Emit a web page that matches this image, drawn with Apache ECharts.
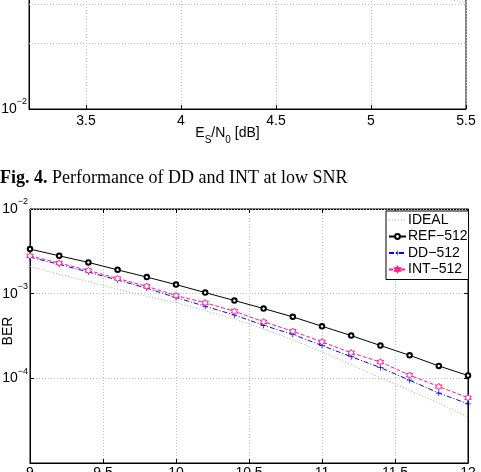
<!DOCTYPE html>
<html>
<head>
<meta charset="utf-8">
<script src="https://cdn.jsdelivr.net/npm/echarts@6/dist/echarts.min.js"></script>
<style>
  html, body { margin: 0; padding: 0; background: #fff; }
  #chart-container { width: 481px; height: 472px; }
</style>
</head>
<body>
<div id="chart-container"></div>
<script>
var dom = document.getElementById("chart-container");
var myChart = echarts.init(dom, null, { renderer: "canvas" });

// top (cropped) figure, only its tail is visible
var topTicks = [3.5, 4, 4.5, 5, 5.5];
var topSnr = [5.3, 5.5];
var topIdeal = [0.0339, 0.0302];

// Es/N0 points of the lower figure
var snr = [9.0, 9.2, 9.4, 9.6, 9.8, 10.0, 10.2, 10.4, 10.6, 10.8, 11.0, 11.2, 11.4, 11.6, 11.8, 12.0];
var ideal = [2.09e-3, 1.70e-3, 1.39e-3, 1.13e-3, 9.3e-4, 7.8e-4, 6.3e-4, 5.0e-4, 3.85e-4, 2.85e-4, 2.05e-4, 1.45e-4, 1.02e-4, 7.2e-5, 5.1e-5, 3.5e-5];
var ref512 = [3.36e-3, 2.80e-3, 2.34e-3, 1.91e-3, 1.57e-3, 1.28e-3, 1.03e-3, 8.3e-4, 6.67e-4, 5.32e-4, 4.12e-4, 3.2e-4, 2.44e-4, 1.87e-4, 1.40e-4, 1.08e-4];
var dd512 = [2.70e-3, 2.22e-3, 1.80e-3, 1.45e-3, 1.16e-3, 9.0e-4, 7.1e-4, 5.6e-4, 4.23e-4, 3.3e-4, 2.44e-4, 1.8e-4, 1.34e-4, 9.5e-5, 6.7e-5, 5.0e-5];
var int512 = [2.80e-3, 2.30e-3, 1.88e-3, 1.51e-3, 1.22e-3, 9.5e-4, 7.8e-4, 6.2e-4, 4.65e-4, 3.6e-4, 2.7e-4, 2.0e-4, 1.56e-4, 1.09e-4, 8.0e-5, 5.9e-5];
var names = ["IDEAL", "REF\u2212512", "DD\u2212512", "INT\u2212512"];

var font = "Liberation Sans";
var gridColor = "#bdbdbd";
var idealStyle = { color: "#a8a8a8", type: [1, 2], width: 1 };

function pairs(xs, ys) {
  return xs.map(function (x, i) { return [x, ys[i]]; });
}

// minor log grid: 2..9 x 10^k
function minorLines(k0, k1) {
  var out = [];
  for (var k = k0; k < k1; k++) {
    for (var m = 2; m <= 9; m++) out.push({ yAxis: m * Math.pow(10, k) });
  }
  return out;
}

function powLabel(v) {
  var e = Math.round(Math.log10(v));
  if (e === -5) return "";
  return "{m|10}{e|\u2212" + (-e) + "}";
}

var powRich = {
  m: { fontSize: 14, fontFamily: font, color: "#000" },
  e: { fontSize: 9, fontFamily: font, color: "#000", padding: [0, 0, 14, 0] },
};

var gridLine = { show: true, lineStyle: { color: gridColor, type: [1, 2], width: 1 } };
var blackLine = { show: true, lineStyle: { color: "#000", width: 1 } };

var markGrid = function (k0, k1) {
  return {
    silent: true,
    symbol: ["none", "none"],
    label: { show: false },
    lineStyle: { color: gridColor, type: [1, 2], width: 1 },
    data: minorLines(k0, k1),
  };
};

var hexagram = "path://M5,0L6.45,2.49L9.33,2.5L7.9,5L9.33,7.5L6.45,7.51L5,10L3.55,7.51L0.67,7.5L2.1,5L0.67,2.5L3.55,2.49Z";
var plus = "path://M4.4,0H5.6V4.4H10V5.6H5.6V10H4.4V5.6H0V4.4H4.4Z";

var option = {
  animation: false,
  title: {
    text: "{b|Fig. 4.} Performance of DD and INT at low SNR",
    left: 0,
    top: 169,
    padding: 0,
    textStyle: {
      fontFamily: "Liberation Serif",
      fontSize: 18,
      fontWeight: "normal",
      color: "#000",
      rich: { b: { fontFamily: "Liberation Serif", fontSize: 18, fontWeight: "bold", color: "#000" } },
    },
  },
  legend: {
    data: [
      { name: names[0], itemStyle: { opacity: 0 }, lineStyle: idealStyle },
      names[1],
      names[2],
      names[3],
    ],
    orient: "vertical",
    left: 386,
    top: 211,
    itemWidth: 17,
    itemHeight: 6,
    itemGap: 2.5,
    padding: [2, 1, 3, 2],
    borderColor: "#000",
    borderWidth: 1,
    borderRadius: 0,
    backgroundColor: "#fff",
    textStyle: { fontFamily: font, fontSize: 14, lineHeight: 14, color: "#000", padding: [0, 0, 0, -3] },
  },
  grid: [
    { left: 29, top: -110, width: 437, height: 219, show: true, borderColor: "#000", borderWidth: 1, outerBoundsMode: "none" },
    { left: 30, top: 209, width: 438, height: 254, show: true, borderColor: "#000", borderWidth: 1, outerBoundsMode: "none" },
  ],
  xAxis: [
    {
      gridIndex: 0,
      type: "value",
      min: 3.2,
      max: 5.5,
      axisLine: blackLine,
      axisTick: { inside: true, length: 4, customValues: topTicks, lineStyle: { color: "#000" } },
      axisLabel: { customValues: topTicks, margin: 5, fontFamily: font, fontSize: 14, color: "#000" },
      splitLine: gridLine,
      name: "{n|E}{s|S}{n|/N}{s|0}{n| [dB]}",
      nameLocation: "middle",
      nameGap: 12,
      nameMoveOverlap: false,
      nameTextStyle: {
        padding: [0, 40, 0, 0],
        rich: {
          n: { fontFamily: font, fontSize: 14, color: "#000" },
          s: { fontFamily: font, fontSize: 10, color: "#000", padding: [14, 0, 0, 0] },
        },
      },
    },
    {
      gridIndex: 1,
      type: "value",
      min: 9,
      max: 12,
      interval: 0.5,
      axisLine: blackLine,
      axisTick: { inside: true, length: 4, lineStyle: { color: "#000" } },
      axisLabel: { margin: 3, fontFamily: font, fontSize: 14, color: "#000" },
      splitLine: gridLine,
    },
    {
      gridIndex: 1,
      type: "value",
      position: "top",
      min: 9,
      max: 12,
      interval: 0.5,
      axisLine: blackLine,
      axisTick: { inside: true, length: 4, lineStyle: { color: "#000" } },
      axisLabel: { show: false },
      splitLine: { show: false },
    },
  ],
  yAxis: [
    {
      gridIndex: 0,
      type: "log",
      logBase: 10,
      min: 0.01,
      max: 0.1,
      axisLine: blackLine,
      axisTick: { inside: true, length: 4, lineStyle: { color: "#000" } },
      axisLabel: { margin: 2, formatter: powLabel, rich: powRich },
      splitLine: gridLine,
    },
    {
      gridIndex: 1,
      type: "log",
      logBase: 10,
      min: 1e-5,
      max: 1e-2,
      axisLine: blackLine,
      axisTick: { inside: true, length: 4, lineStyle: { color: "#000" } },
      axisLabel: { margin: 2, formatter: powLabel, rich: powRich },
      splitLine: gridLine,
      name: "BER",
      nameLocation: "middle",
      nameGap: 15,
      nameMoveOverlap: false,
      nameTextStyle: { fontFamily: font, fontSize: 14, color: "#000", padding: [0, 0, 0, 10] },
    },
    {
      gridIndex: 1,
      type: "log",
      logBase: 10,
      position: "right",
      min: 1e-5,
      max: 1e-2,
      axisLine: blackLine,
      axisTick: { inside: true, length: 4, lineStyle: { color: "#000" } },
      axisLabel: { show: false },
      splitLine: { show: false },
    },
  ],
  series: [
    {
      name: "topGrid",
      type: "line",
      xAxisIndex: 0,
      yAxisIndex: 0,
      data: [],
      z: 1,
      markLine: markGrid(-2, -1),
    },
    {
      name: "topIdeal",
      type: "line",
      xAxisIndex: 0,
      yAxisIndex: 0,
      data: pairs(topSnr, topIdeal),
      symbol: "none",
      lineStyle: { color: "#b0b0b0", type: [1, 2], width: 1 },
    },
    {
      name: "bottomGrid",
      type: "line",
      xAxisIndex: 1,
      yAxisIndex: 1,
      data: [],
      z: 1,
      markLine: markGrid(-5, -2),
    },
    {
      name: names[0],
      type: "line",
      xAxisIndex: 1,
      yAxisIndex: 1,
      data: pairs(snr, ideal),
      symbol: "circle",
      showSymbol: false,
      color: "#a8a8a8",
      lineStyle: idealStyle,
    },
    {
      name: names[1],
      type: "line",
      xAxisIndex: 1,
      yAxisIndex: 1,
      data: pairs(snr, ref512),
      symbol: "emptyCircle",
      symbolSize: 4.5,
      color: "#000",
      itemStyle: { color: "#000", borderColor: "#000", borderWidth: 1 },
      lineStyle: { color: "#000", width: 1 },
    },
    {
      name: names[2],
      type: "line",
      xAxisIndex: 1,
      yAxisIndex: 1,
      data: pairs(snr, dd512),
      symbol: plus,
      symbolSize: 6,
      color: "#0000ff",
      itemStyle: { color: "#0000ff" },
      lineStyle: { color: "#0000ff", type: [5, 2, 1, 2], width: 1 },
    },
    {
      name: names[3],
      type: "line",
      xAxisIndex: 1,
      yAxisIndex: 1,
      data: pairs(snr, int512),
      symbol: hexagram,
      symbolSize: 6.5,
      color: "#ff1a8c",
      itemStyle: { color: "#fff", borderColor: "#ff1a8c", borderWidth: 1 },
      lineStyle: { color: "#ff1a8c", type: [4, 2], width: 1 },
    },
  ],
};

myChart.setOption(option);
</script>
</body>
</html>
